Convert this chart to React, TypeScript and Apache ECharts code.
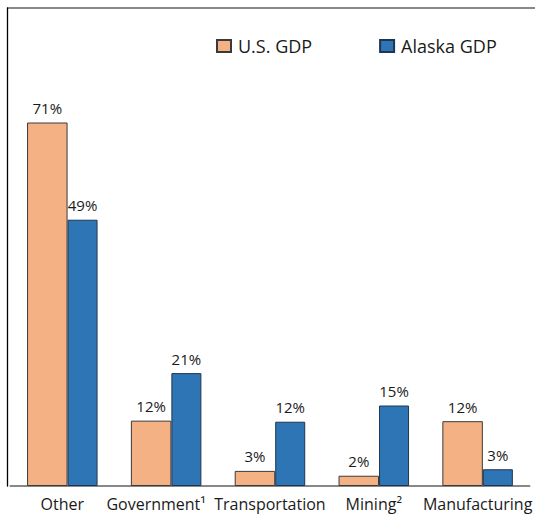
import React, { useEffect, useRef } from "react";
import * as echarts from "echarts";

const categories = ["Other", "Government¹", "Transportation", "Mining²", "Manufacturing"];
const usValues = [67.3, 12.1, 2.8, 1.9, 12.0];
const alaskaValues = [49.3, 20.9, 11.9, 14.9, 3.1];
const usLabels = ["71%", "12%", "3%", "2%", "12%"];
const alaskaLabels = ["49%", "21%", "12%", "15%", "3%"];
const seriesNames = ["U.S. GDP", "Alaska GDP"];

const FONT = "'Open Sans', 'Noto Sans', sans-serif";

export default function App() {
  const ref = useRef<HTMLDivElement>(null);
  useEffect(() => {
    document.body.style.margin = "0";
    const chart = echarts.init(ref.current!, null, { renderer: "svg" });
    chart.setOption({
      animation: false,
      backgroundColor: "#ffffff",
      textStyle: { fontFamily: FONT },
      legend: {
        left: 216,
        top: 37,
        padding: 0,
        itemWidth: 14,
        itemHeight: 12,
        itemGap: 67,
        icon: "rect",
        textStyle: { fontSize: 18, color: "#1a1a1a", fontFamily: FONT, padding: [0, 0, 0, 2] },
        data: seriesNames,
      },
      grid: { left: 10.4, top: 8, width: 522.4, bottom: 28, containLabel: false },
      xAxis: {
        type: "category",
        data: categories,
        axisLine: { show: true, lineStyle: { color: "#888888", width: 2 } },
        axisTick: { show: false },
        axisLabel: {
          fontSize: 16,
          color: "#1a1a1a",
          margin: 10,
          fontFamily: FONT,
          interval: 0,
          formatter: (v: string, i: number) => (i === 1 ? `{g|${v}}` : v),
          rich: {
            g: { fontSize: 16, color: "#1a1a1a", fontFamily: FONT, padding: [0, 20, 0, 0] },
          },
        },
      },
      yAxis: {
        type: "value",
        min: 0,
        max: 88.5,
        offset: 3,
        axisLine: { show: true, lineStyle: { color: "#000000", width: 1.3 } },
        axisTick: { show: false },
        axisLabel: { show: false },
        splitLine: { show: false },
      },
      graphic: [
        {
          type: "line",
          shape: { x1: 7, y1: 8, x2: 535, y2: 8 },
          style: { stroke: "#888888", lineWidth: 2 },
        },
      ],
      series: [
        {
          name: seriesNames[0],
          type: "bar",
          data: usValues,
          barWidth: 40.5,
          barGap: "0%",
          itemStyle: { color: "#F4B183", borderColor: "#3a3a3a", borderWidth: 1 },
          label: {
            show: true,
            position: "top",
            distance: 7,
            fontSize: 15,
            color: "#1a1a1a",
            fontFamily: FONT,
            formatter: (p: any) => usLabels[p.dataIndex],
          },
        },
        {
          name: seriesNames[1],
          type: "bar",
          data: alaskaValues,
          barWidth: 30,
          barGap: "0%",
          itemStyle: { color: "#2E75B6", borderColor: "#1f3550", borderWidth: 1 },
          label: {
            show: true,
            position: "top",
            distance: 7,
            fontSize: 15,
            color: "#1a1a1a",
            fontFamily: FONT,
            formatter: (p: any) => alaskaLabels[p.dataIndex],
          },
        },
      ],
    });
    return () => chart.dispose();
  }, []);
  return (
    <div
      ref={ref}
      style={{ position: "fixed", left: 0, top: 0, width: 535, height: 514 }}
    />
  );
}
